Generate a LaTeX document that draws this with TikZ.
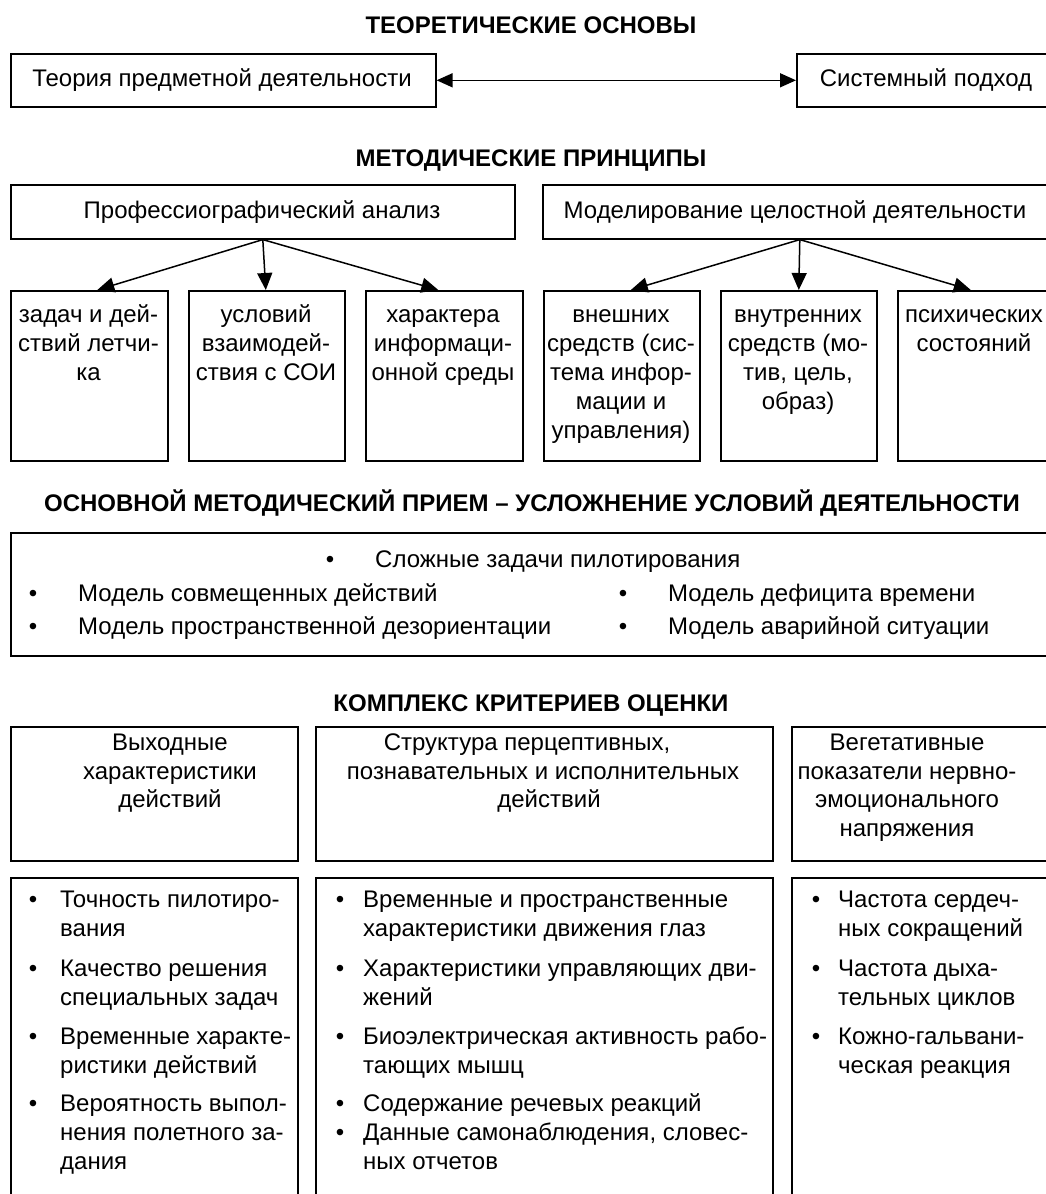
\documentclass[tikz,border=0pt]{standalone}
\usepackage{fontspec}
\setmainfont{Liberation Sans}
\usetikzlibrary{arrows.meta,calc}
\tikzset{
  box/.style={draw, line width=1.6pt, inner sep=0pt, anchor=north west},
  txt/.style={inner sep=0pt, font=\fontsize{24}{29}\selectfont},
  hdr/.style={inner sep=0pt, font=\fontsize{24}{28}\selectfont\bfseries, anchor=base},
  arr/.style={line width=1.5pt, -{Triangle[length=17pt,width=15pt]}},
  dblarr/.style={line width=1.5pt, {Triangle[length=16pt,width=14pt]}-{Triangle[length=16pt,width=14pt]}},
}
\newcommand\mytext[4]{\node[txt,anchor=base] (#1) at (#2,#3) {#4};}
\newcommand\myleft[4]{\node[txt,anchor=base west] (#1) at (#2,#3) {#4};}
\begin{document}
\begin{tikzpicture}[x=1pt,y=-1pt]
\useasboundingbox (0,0) rectangle (1046,1194);
\clip (0,0) rectangle (1046,1194);

% headings
\node[hdr] (h1) at (531,33) {ТЕОРЕТИЧЕСКИЕ ОСНОВЫ};
\node[hdr] (h2) at (531,166) {МЕТОДИЧЕСКИЕ ПРИНЦИПЫ};
\node[hdr] (h3) at (532,511) {ОСНОВНОЙ МЕТОДИЧЕСКИЙ ПРИЕМ – УСЛОЖНЕНИЕ УСЛОВИЙ ДЕЯТЕЛЬНОСТИ};
\node[hdr] (h4) at (531,711) {КОМПЛЕКС КРИТЕРИЕВ ОЦЕНКИ};

% theoretical boxes
\node[box, minimum width=425pt, minimum height=53pt] (t1) at (10,53) {};
\node[box, minimum width=260pt, minimum height=53pt] (t2) at (796,53) {};
\mytext{t1a}{222}{86}{Теория предметной деятельности}
\mytext{t2a}{926}{86}{Системный подход}
\draw[dblarr] (t1.east) -- (t2.west);

% principles
\node[box, minimum width=504pt, minimum height=54pt] (p1) at (10,184) {};
\node[box, minimum width=514pt, minimum height=54pt] (p2) at (542,184) {};
\mytext{p1a}{262}{218}{Профессиографический анализ}
\mytext{p2a}{795}{218}{Моделирование целостной деятельности}

\node[box, minimum width=157pt, minimum height=170pt] (s1) at (10,290) {};
\node[box, minimum width=156pt, minimum height=170pt] (s2) at (188,290) {};
\node[box, minimum width=157pt, minimum height=170pt] (s3) at (365,290) {};
\node[box, minimum width=156pt, minimum height=170pt] (s4) at (543,290) {};
\node[box, minimum width=156pt, minimum height=170pt] (s5) at (720,290) {};
\node[box, minimum width=160pt, minimum height=170pt] (s6) at (897,290) {};

\draw[arr] (p1.south) -- ($(s1.north)+(8,0)$);
\draw[arr] (p1.south) -- ($(s2.north)+(-1,0)$);
\draw[arr] (p1.south) -- ($(s3.north)+(-6,0)$);
\draw[arr] (p2.south) -- ($(s4.north)+(9,0)$);
\draw[arr] (p2.south) -- (s5.north);
\draw[arr] (p2.south) -- ($(s6.north)+(-7,0)$);

\mytext{s1a}{88.5}{322}{задач и дей-}
\mytext{s1b}{88.5}{351}{ствий летчи-}
\mytext{s1c}{88.5}{380}{ка}
\mytext{s2a}{266}{322}{условий}
\mytext{s2b}{266}{351}{взаимодей-}
\mytext{s2c}{266}{380}{ствия с СОИ}
\mytext{s3a}{443}{322}{характера}
\mytext{s3b}{443}{351}{информаци-}
\mytext{s3c}{443}{380}{онной среды}
\mytext{s4a}{621}{322}{внешних}
\mytext{s4b}{621}{351}{средств (сис-}
\mytext{s4c}{621}{380}{тема инфор-}
\mytext{s4d}{621}{409}{мации и}
\mytext{s4e}{621}{438}{управления)}
\mytext{s5a}{798}{322}{внутренних}
\mytext{s5b}{798}{351}{средств (мо-}
\mytext{s5c}{798}{380}{тив, цель,}
\mytext{s5d}{798}{409}{образ)}
\mytext{s6a}{974}{322}{психических}
\mytext{s6b}{974}{351}{состояний}

% main method box
\node[box, minimum width=1046pt, minimum height=123pt] (m) at (10,532) {};
\mytext{mb1}{330}{567}{•}
\myleft{mt1}{375}{567}{Сложные задачи пилотирования}
\mytext{mb2}{33}{601}{•}
\myleft{mt2}{78}{601}{Модель совмещенных действий}
\mytext{mb3}{623}{601}{•}
\myleft{mt3}{668}{601}{Модель дефицита времени}
\mytext{mb4}{33}{634}{•}
\myleft{mt4}{78}{634}{Модель пространственной дезориентации}
\mytext{mb5}{623}{634}{•}
\myleft{mt5}{668}{634}{Модель аварийной ситуации}

% criteria headers
\node[box, minimum width=287pt, minimum height=134pt] (c1) at (10,726) {};
\node[box, minimum width=457pt, minimum height=134pt] (c2) at (315,726) {};
\node[box, minimum width=265pt, minimum height=134pt] (c3) at (791,726) {};
\mytext{c1a}{170}{750}{Выходные}
\mytext{c1b}{170}{779}{характеристики}
\mytext{c1c}{170}{807}{действий}
\mytext{c2a}{527}{750}{Структура перцептивных,}
\mytext{c2b}{543}{779}{познавательных и исполнительных}
\mytext{c2c}{549}{807}{действий}
\mytext{c3a}{907}{750}{Вегетативные}
\mytext{c3b}{907}{779}{показатели нервно-}
\mytext{c3c}{907}{807}{эмоционального}
\mytext{c3d}{907}{836}{напряжения}

% criteria lists
\node[box, minimum width=287pt, minimum height=340pt] (d1) at (10,877) {};
\node[box, minimum width=457pt, minimum height=340pt] (d2) at (315,877) {};
\node[box, minimum width=265pt, minimum height=340pt] (d3) at (791,877) {};

\mytext{d1b1}{33}{907}{•}
\myleft{d1t1}{60}{907}{Точность пилотиро-}
\myleft{d1t2}{60}{936}{вания}
\mytext{d1b2}{33}{976}{•}
\myleft{d1t3}{60}{976}{Качество решения}
\myleft{d1t4}{60}{1005}{специальных задач}
\mytext{d1b3}{33}{1044}{•}
\myleft{d1t5}{60}{1044}{Временные характе-}
\myleft{d1t6}{60}{1073}{ристики действий}
\mytext{d1b4}{33}{1111}{•}
\myleft{d1t7}{60}{1111}{Вероятность выпол-}
\myleft{d1t8}{60}{1140}{нения полетного за-}
\myleft{d1t9}{60}{1169}{дания}

\mytext{d2b1}{340}{907}{•}
\myleft{d2t1}{363}{907}{Временные и пространственные}
\myleft{d2t2}{363}{936}{характеристики движения глаз}
\mytext{d2b2}{340}{976}{•}
\myleft{d2t3}{363}{976}{Характеристики управляющих дви-}
\myleft{d2t4}{363}{1005}{жений}
\mytext{d2b3}{340}{1044}{•}
\myleft{d2t5}{363}{1044}{Биоэлектрическая активность рабо-}
\myleft{d2t6}{363}{1073}{тающих мышц}
\mytext{d2b4}{340}{1111}{•}
\myleft{d2t7}{363}{1111}{Содержание речевых реакций}
\mytext{d2b5}{340}{1140}{•}
\myleft{d2t8}{363}{1140}{Данные самонаблюдения, словес-}
\myleft{d2t9}{363}{1169}{ных отчетов}

\mytext{d3b1}{816}{907}{•}
\myleft{d3t1}{838}{907}{Частота сердеч-}
\myleft{d3t2}{838}{936}{ных сокращений}
\mytext{d3b2}{816}{976}{•}
\myleft{d3t3}{838}{976}{Частота дыха-}
\myleft{d3t4}{838}{1005}{тельных циклов}
\mytext{d3b3}{816}{1044}{•}
\myleft{d3t5}{838}{1044}{Кожно-гальвани-}
\myleft{d3t6}{838}{1073}{ческая реакция}
\end{tikzpicture}
\end{document}
